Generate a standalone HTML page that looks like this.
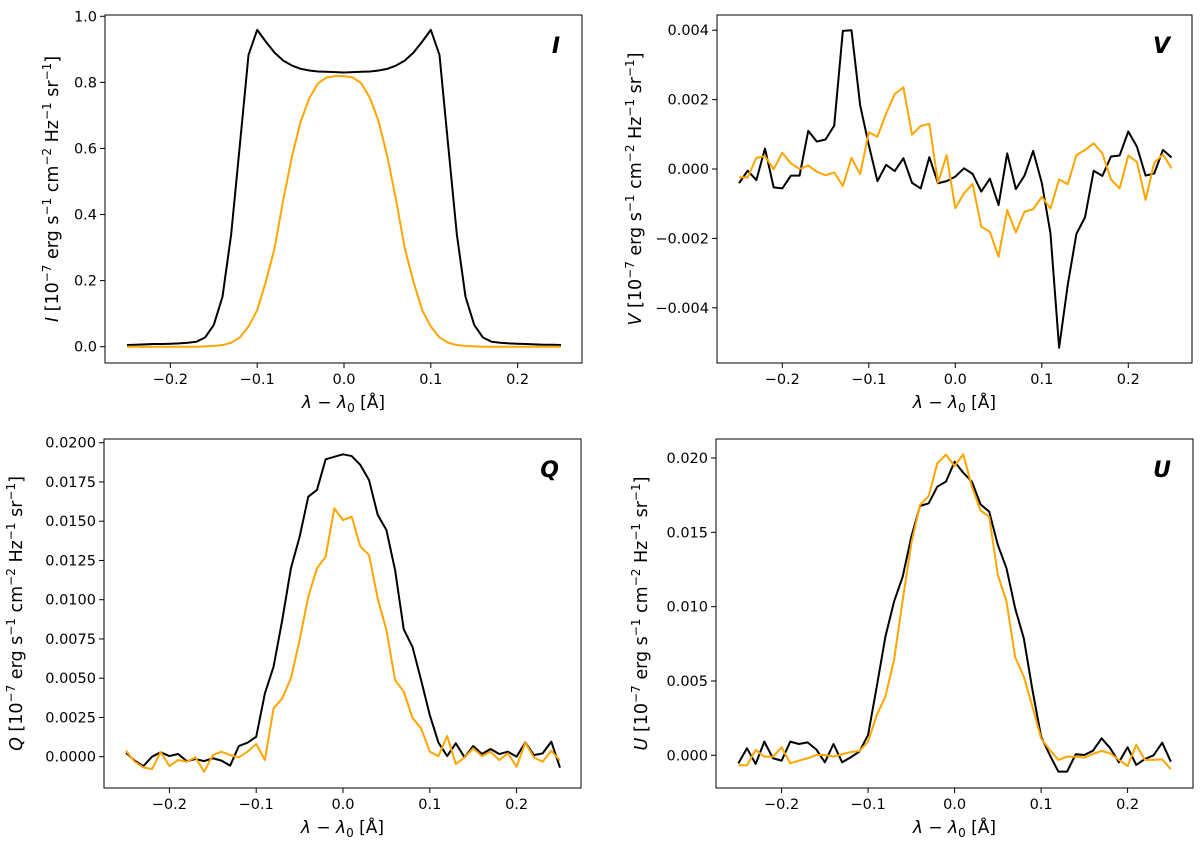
<!DOCTYPE html>
<html><head><meta charset="utf-8"><style>
body{margin:0;background:#fff}
svg{display:block;font-family:"DejaVu Sans","Liberation Sans",sans-serif}
</style></head><body>
<svg id="fig" width="1200" height="847" viewBox="0 0 1200 847"></svg>
<script>
const xs = [];
for (let i = 0; i <= 50; i++) xs.push(Math.round((-0.25 + i*0.01)*100)/100);
const xTicks = [-0.2,-0.1,0.0,0.1,0.2];
const xTickLabels = ["\u22120.2","\u22120.1","0.0","0.1","0.2"];

const iBlack = [0.005,0.006,0.007,0.008,0.008,0.009,0.010,0.012,0.015,0.028,0.066,0.151,0.34,0.61,0.883,0.959,0.923,0.89,0.866,0.851,0.841,0.836,0.833,0.832,0.831,0.830,0.831,0.832,0.833,0.836,0.841,0.851,0.866,0.89,0.923,0.959,0.883,0.61,0.34,0.151,0.066,0.028,0.015,0.012,0.010,0.009,0.008,0.007,0.006,0.006,0.005];
const iOrange = [0,0,0,0,0,0,0,0,0,0.001,0.002,0.005,0.012,0.028,0.061,0.111,0.197,0.298,0.444,0.575,0.681,0.752,0.797,0.815,0.819,0.819,0.815,0.797,0.752,0.681,0.575,0.444,0.298,0.197,0.111,0.061,0.028,0.012,0.005,0.002,0.001,0,0,0,0,0,0,0,0,0,0];
const vBlack = [-0.00041,-0.00005,-0.00032,0.00059,-0.00053,-0.00056,-0.00019,-0.00019,0.0011,0.00079,0.00085,0.00125,0.00398,0.004,0.00184,0.00069,-0.00035,0.00012,-0.00006,0.00031,-0.0004,-0.00056,0.00034,-0.00041,-0.00035,-0.00022,0.00002,-0.00014,-0.00065,-0.00028,-0.00104,0.00045,-0.00058,-0.00019,0.00052,-0.0004,-0.00185,-0.00515,-0.00334,-0.00187,-0.00139,-0.00005,-0.0002,0.00036,0.00039,0.00108,0.00064,-0.00019,-0.00013,0.00055,0.00033];
const vOrange = [-0.00024,-0.00024,0.00032,0.00037,-0.00001,0.00047,0.00016,0,0.0001,-0.00008,-0.00018,-0.0001,-0.00049,0.00032,-0.00015,0.00106,0.00093,0.0016,0.00216,0.00235,0.00099,0.00124,0.0013,-0.00039,0.0004,-0.00113,-0.0007,-0.00043,-0.00166,-0.00181,-0.00253,-0.00118,-0.00183,-0.00123,-0.00116,-0.0008,-0.00114,-0.0003,-0.00044,0.0004,0.00055,0.00074,0.00045,-0.0003,-0.00056,0.00039,0.0002,-0.00089,0.00018,0.00042,0.00002];
const qBlack = [0.00025,-0.00025,-0.0006,0,0.00028,0.00004,0.00017,-0.00028,-0.00015,-0.00028,-0.0001,-0.00025,-0.00057,0.00068,0.00089,0.00127,0.00403,0.00573,0.0087,0.012,0.014,0.01656,0.01699,0.01894,0.0191,0.01926,0.01915,0.01858,0.01762,0.0154,0.01444,0.01189,0.00811,0.007,0.00488,0.00265,0.00089,0.00004,0.00085,-0.00004,0.00068,0.00017,0.00049,0.00017,0.00032,0,0.00091,0.0001,0.00021,0.00096,-0.0007];
const qOrange = [0.00038,-0.00032,-0.00068,-0.00079,0.0003,-0.0006,-0.00021,-0.00032,-0.00004,-0.00096,0.0001,0.00032,0.0001,-0.00004,0.00032,0.00081,-0.00021,0.00308,0.00372,0.00499,0.00743,0.01019,0.012,0.01274,0.01582,0.01507,0.01529,0.01338,0.01285,0.01008,0.00807,0.00488,0.00414,0.00248,0.0018,0.00032,0.00004,0.00132,-0.00047,-0.00004,0.00053,0.00004,0.00032,-0.00021,0.00021,-0.00064,0.00089,-0.00004,-0.00032,0.00038,-0.00025];
const uBlack = [-0.00054,0.00047,-0.00058,0.00092,-0.0002,-0.00036,0.00092,0.00076,0.00087,0.0004,-0.00047,0.00076,-0.00047,-0.00013,0.00025,0.00137,0.00462,0.00798,0.01034,0.01202,0.01471,0.01677,0.01695,0.01807,0.01841,0.01975,0.01901,0.01841,0.01688,0.01639,0.01415,0.01258,0.00989,0.00787,0.00439,0.00126,0.00002,-0.0011,-0.0011,0.00007,0.00002,0.00031,0.00114,0.00047,-0.00047,0.00054,-0.00065,-0.00025,0,0.00085,-0.00043];
const uOrange = [-0.00067,-0.00067,0.00036,-0.00009,-0.00009,0.00054,-0.00054,-0.00036,-0.0002,0.00002,0.00002,-0.00009,0.00007,0.00022,0.00029,0.00092,0.00271,0.00395,0.00641,0.01045,0.01426,0.01684,0.01744,0.01964,0.02022,0.01946,0.02025,0.01807,0.01646,0.01605,0.01213,0.01034,0.00659,0.00529,0.00327,0.00114,0.00036,-0.00031,-0.00009,-0.00009,-0.00016,0.00009,0.00029,0.00013,-0.00031,-0.00072,0.0007,-0.00031,-0.00031,-0.00027,-0.00094];

const iTicks = [0,0.2,0.4,0.6,0.8,1.0];
const iTickLabels = ["0.0","0.2","0.4","0.6","0.8","1.0"];
const vTicks = [-0.004,-0.002,0,0.002,0.004];
const vTickLabels = ["\u22120.004","\u22120.002","0.000","0.002","0.004"];
const qTicks = [0,0.0025,0.005,0.0075,0.01,0.0125,0.015,0.0175,0.02];
const qTickLabels = ["0.0000","0.0025","0.0050","0.0075","0.0100","0.0125","0.0150","0.0175","0.0200"];
const uTicks = [0,0.005,0.01,0.015,0.02];
const uTickLabels = ["0.000","0.005","0.010","0.015","0.020"];

const NS = "http://www.w3.org/2000/svg";
const svg = document.getElementById("fig");
function mk(tag, attrs, parent){
  const e = document.createElementNS(NS, tag);
  for (const k in attrs) e.setAttribute(k, attrs[k]);
  (parent||svg).appendChild(e);
  return e;
}

function panel(cfg){
  const g = mk("g", {});
  
  
  const sx = v => cfg.x0 + v * cfg.xs;
  const sy = v => cfg.y0 - v * cfg.ys;
  xTicks.forEach((t,i)=>{
    const x = sx(t);
    mk("line",{x1:x,x2:x,y1:cfg.bottom,y2:cfg.bottom+5,stroke:"#000","stroke-width":1},g);
    const tx = mk("text",{x:x,y:cfg.bottom+21,"font-size":14.5,"text-anchor":"middle"},g);
    tx.textContent = xTickLabels[i];
    
    
  });
  cfg.ticks.forEach((t,i)=>{
    const y = sy(t);
    mk("line",{x1:cfg.left-5,x2:cfg.left,y1:y,y2:y,stroke:"#000","stroke-width":1},g);
    const ty = mk("text",{x:cfg.left-8,y:y+5,"font-size":14.5,"text-anchor":"end"},g);
    ty.textContent = cfg.labels[i];
    
    
  });
  [[cfg.black,"#000","black-series"],[cfg.orange,"#ffa500","orange-series"]].forEach(([arr,col,nm])=>{
    const d = arr.map((v,i)=>(i?"L":"M")+sx(xs[i]).toFixed(2)+","+sy(v).toFixed(2)).join("");
    const p = mk("path",{d:d,fill:"none",stroke:col,"stroke-width":2,"stroke-linejoin":"round"},g);
    
    
  });
  const frame = mk("rect",{x:cfg.left,y:cfg.top,width:cfg.right-cfg.left,height:cfg.bottom-cfg.top,fill:"none",stroke:"#000","stroke-width":1},g);
  
  
  const L = mk("text",{x:cfg.right-22,y:cfg.top+38,"font-size":22,"font-weight":"bold","font-style":"italic","text-anchor":"end"},g);
  L.textContent = cfg.letter;
  
  
  const xl = mk("text",{x:(cfg.left+cfg.right)/2,y:cfg.bottom+45,"font-size":17,"text-anchor":"middle"},g);
  xl.innerHTML = '<tspan font-style="italic">λ</tspan> − <tspan font-style="italic">λ</tspan><tspan font-size="12" dy="4">0</tspan><tspan dy="-4"> [Å]</tspan>';
  
  
  const cy = (cfg.top+cfg.bottom)/2;
  const yl = mk("text",{x:0,y:0,"font-size":17.5,"text-anchor":"middle",transform:`translate(${cfg.ylx},${cy}) rotate(-90)`},g);
  yl.innerHTML = `<tspan font-style="italic">${cfg.letter}</tspan> [10<tspan font-size="12" dy="-7">−7</tspan><tspan dy="7"> erg s</tspan><tspan font-size="12" dy="-7">−1</tspan><tspan dy="7"> cm</tspan><tspan font-size="12" dy="-7">−2</tspan><tspan dy="7"> Hz</tspan><tspan font-size="12" dy="-7">−1</tspan><tspan dy="7"> sr</tspan><tspan font-size="12" dy="-7">−1</tspan><tspan dy="7">]</tspan>`;
  
  
}

panel({name:"stokes-i",letter:"I",left:105,right:582,top:15,bottom:363,x0:344,xs:868,y0:346.7,ys:330.4,ticks:iTicks,labels:iTickLabels,black:iBlack,orange:iOrange,ylx:58});
panel({name:"stokes-v",letter:"V",left:717,right:1192,top:15,bottom:363,x0:955.3,xs:865,y0:169,ys:34700,ticks:vTicks,labels:vTickLabels,black:vBlack,orange:vOrange,ylx:641});
panel({name:"stokes-q",letter:"Q",left:104,right:581,top:439,bottom:788,x0:343,xs:868,y0:756.7,ys:15700,ticks:qTicks,labels:qTickLabels,black:qBlack,orange:qOrange,ylx:22});
panel({name:"stokes-u",letter:"U",left:716,right:1193,top:439,bottom:788,x0:954.6,xs:865,y0:755.3,ys:14865,ticks:uTicks,labels:uTickLabels,black:uBlack,orange:uOrange,ylx:647});
</script>
</body></html>
